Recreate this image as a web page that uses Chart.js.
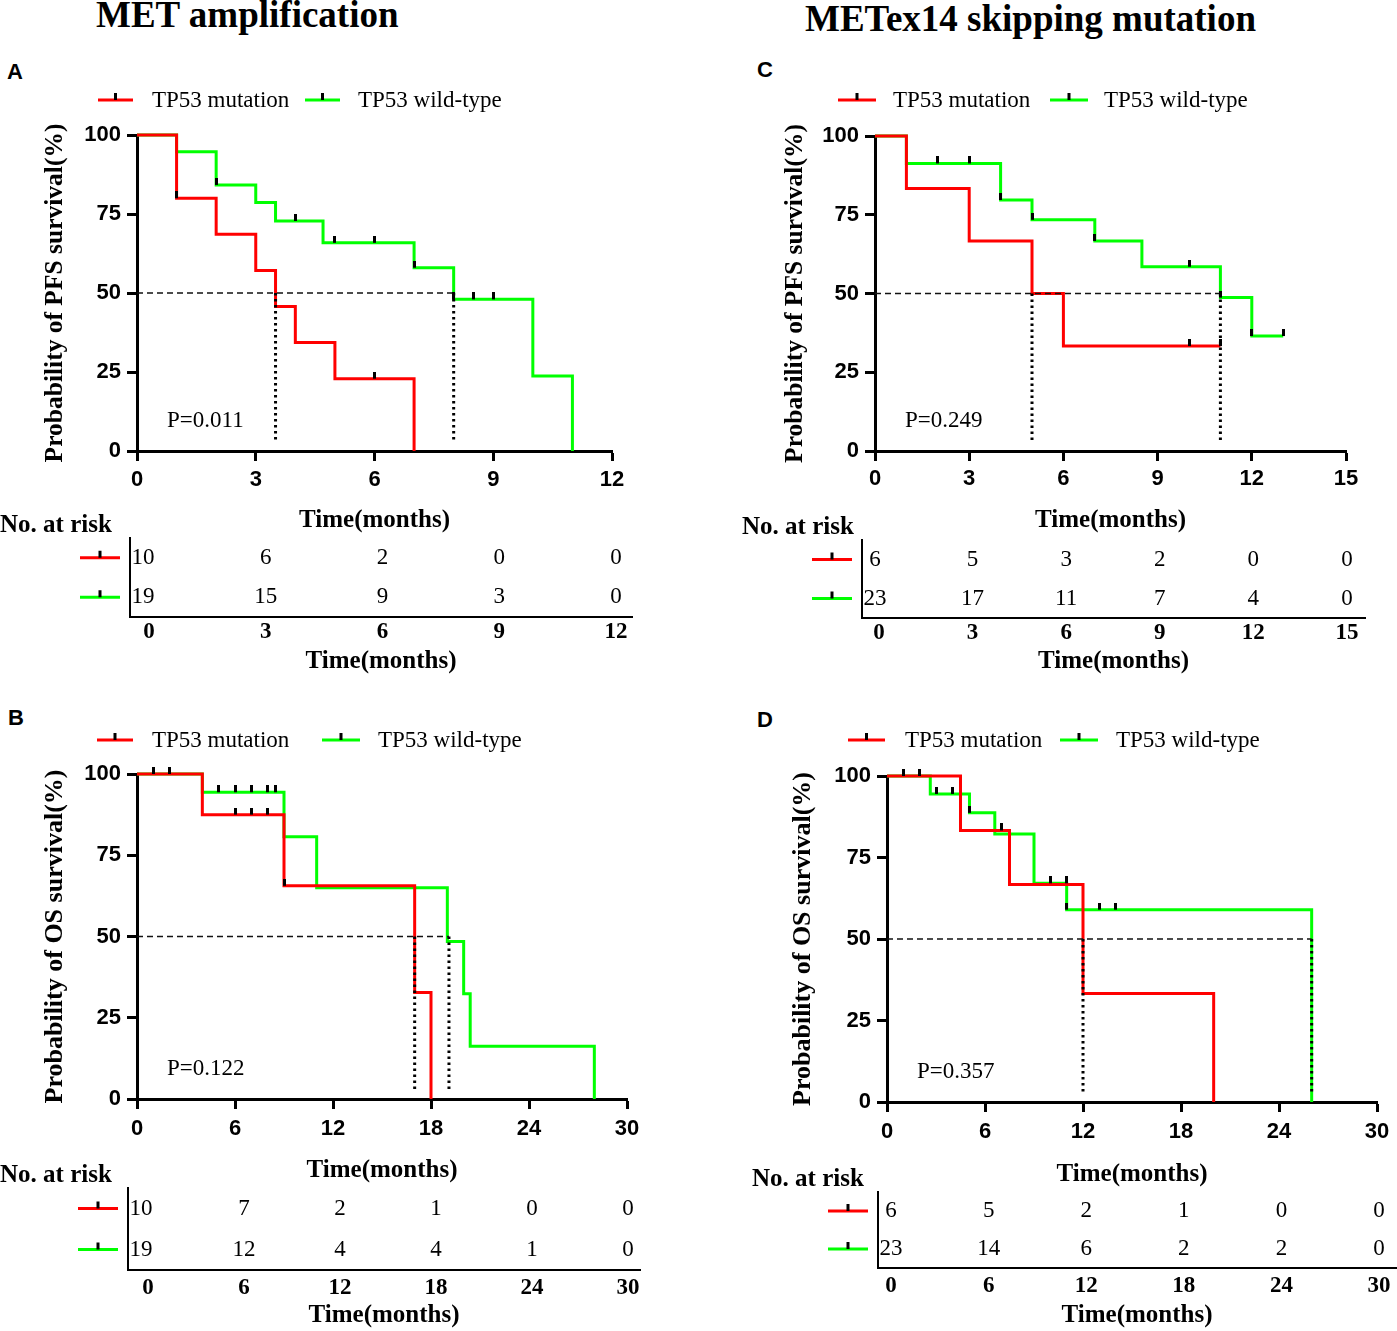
<!DOCTYPE html>
<html><head><meta charset="utf-8">
<script src="https://cdn.jsdelivr.net/npm/chart.js@4.4.1/dist/chart.umd.min.js"></script>
<style>
html,body{margin:0;padding:0;background:#fff}
body{width:1397px;height:1331px;position:relative;overflow:hidden}
.hd{position:absolute;font-family:"Liberation Serif","Times New Roman",serif;font-weight:bold;font-size:37px;line-height:37px;white-space:nowrap;color:#000}
.lt{position:absolute;font-family:"Liberation Sans",Arial,sans-serif;font-weight:bold;font-size:22px;line-height:22px;color:#000}
canvas{position:absolute}
</style></head><body>
<div class="hd" style="left:96px;top:-4px">MET amplification</div>
<div class="hd" style="left:805px;top:0px">METex14 skipping mutation</div>
<div class="lt" style="left:7px;top:61px">A</div>
<div class="lt" style="left:757px;top:59px">C</div>
<div class="lt" style="left:8px;top:707px">B</div>
<div class="lt" style="left:757px;top:709px">D</div>
<script>
const SERIF='"Liberation Serif","Times New Roman",serif';
const SANS='"Liberation Sans",Arial,sans-serif';
const seriesNames=['TP53 mutation','TP53 wild-type'];
const seriesColors=['#ff0000','#00ff00'];
const xAxisTitle='Time(months)';
const pfsTitle='Probability of PFS survival(%)';
const osTitle='Probability of OS survival(%)';
const riskTitle='No. at risk';
const medianLevel=50;
const medianFloor=3;

// ---- Panel A: MET amplification, PFS ----
const aXTicks=[0,3,6,9,12];
const aMutTime=[0,1,2,3,3.5,4,5,7];
const aMutSurv=[100,80,68.6,57.1,45.7,34.3,22.9,0];
const aMutCensorTime=[1,6];
const aMutCensorSurv=[80,22.9];
const aWtTime=[0,1,2,3,3.5,4.7,7,8,10,11];
const aWtSurv=[100,94.7,84.2,78.6,72.8,65.9,58.0,48.0,23.7,0];
const aWtCensorTime=[2,4,5,6,7,8,8.5,9];
const aWtCensorSurv=[84.2,72.8,65.9,65.9,58.0,48.0,48.0,48.0];
const aMedians=[3.5,8];
const aRiskMut=[10,6,2,0,0];
const aRiskWt=[19,15,9,3,0];
const aP='P=0.011';

// ---- Panel C: METex14 skipping, PFS ----
const cXTicks=[0,3,6,9,12,15];
const cMutTime=[0,1,3,5,6,11];
const cMutSurv=[100,83.3,66.7,50,33.3,33.3];
const cMutCensorTime=[10,11];
const cMutCensorSurv=[33.3,33.3];
const cWtTime=[0,1,4,5,7,8.5,11,12,13];
const cWtSurv=[100,91.3,79.7,73.4,66.7,58.5,48.7,36.5,36.5];
const cWtCensorTime=[2,3,4,5,7,10,11,12,13];
const cWtCensorSurv=[91.3,91.3,79.7,73.4,66.7,58.5,48.7,36.5,36.5];
const cMedians=[5,11];
const cRiskMut=[6,5,3,2,0,0];
const cRiskWt=[23,17,11,7,4,0];
const cP='P=0.249';

// ---- Panel B: MET amplification, OS ----
const bXTicks=[0,6,12,18,24,30];
const bMutTime=[0,4,9,17,18];
const bMutSurv=[100,87.5,65.6,32.8,0];
const bMutCensorTime=[1,2,6,7,8,9];
const bMutCensorSurv=[100,100,87.5,87.5,87.5,65.6];
const bWtTime=[0,4,9,11,19,20,20.4,28];
const bWtSurv=[100,94.4,80.7,65,48.5,32.4,16.2,0];
const bWtCensorTime=[5,6,7,8,8.5];
const bWtCensorSurv=[94.4,94.4,94.4,94.4,94.4];
const bMedians=[17,19.1];
const bRiskMut=[10,7,2,1,0,0];
const bRiskWt=[19,12,4,4,1,0];
const bP='P=0.122';

// ---- Panel D: METex14 skipping, OS ----
const dXTicks=[0,6,12,18,24,30];
const dMutTime=[0,4.5,7.5,12,20];
const dMutSurv=[100,83.3,66.7,33.3,0];
const dMutCensorTime=[1,2,7];
const dMutCensorSurv=[100,100,83.3];
const dWtTime=[0,2.65,5.05,6.6,9,11,26];
const dWtSurv=[100,94.5,88.7,82.2,67.1,59,0];
const dWtCensorTime=[3,4,5.05,10,11,11,13,14];
const dWtCensorSurv=[94.5,94.5,88.7,67.1,67.1,59,59,59];
const dMedians=[12,26];
const dRiskMut=[6,5,2,1,0,0];
const dRiskWt=[23,14,6,2,2,0];
const dP='P=0.357';

function pts(xs,ys){return xs.map((x,i)=>({x:x,y:ys[i]}));}

const censorImg=(function(){const c=document.createElement('canvas');c.width=3;c.height=14;const g=c.getContext('2d');g.fillStyle='#000';g.fillRect(0,0,3,7);return c;})();

function addCanvas(r){
  const c=document.createElement('canvas');
  c.width=r.w;c.height=r.h;
  c.style.left=r.x+'px';c.style.top=r.y+'px';c.style.width=r.w+'px';c.style.height=r.h+'px';
  document.body.appendChild(c);
  return c;
}

const kmDecor={
  id:'kmDecor',
  afterDraw(chart,args,o){
    const ctx=chart.ctx,a=chart.chartArea;
    ctx.save();
    o.legend.forEach((it,k)=>{
      ctx.strokeStyle=seriesColors[k];ctx.lineWidth=3;
      ctx.beginPath();ctx.moveTo(it.x1,o.legendY);ctx.lineTo(it.x2,o.legendY);ctx.stroke();
      ctx.fillStyle='#000';ctx.fillRect((it.x1+it.x2)/2-1.5,o.legendY-7,3,7);
      ctx.font='23px '+SERIF;ctx.textBaseline='middle';ctx.textAlign='left';
      ctx.fillText(seriesNames[k],it.tx,o.legendY+1);
    });
    ctx.fillStyle='#000';ctx.font='23px '+SERIF;ctx.textBaseline='middle';ctx.textAlign='left';
    ctx.fillText(o.pText,a.left+30,a.bottom-30);
    ctx.restore();
  }
};

const riskDecor={
  id:'riskDecor',
  afterDraw(chart,args,o){
    const ctx=chart.ctx,a=chart.chartArea;
    ctx.save();
    ctx.fillStyle='#000';
    ctx.font='bold 25px '+SERIF;ctx.textBaseline='middle';ctx.textAlign='left';
    ctx.fillText(riskTitle,0,a.top-12);
    chart.data.datasets.forEach((ds,k)=>{
      const meta=chart.getDatasetMeta(k);
      const y0=meta.data[0].y;
      ctx.strokeStyle=seriesColors[k];ctx.lineWidth=3;
      ctx.beginPath();ctx.moveTo(a.left-50,y0);ctx.lineTo(a.left-10,y0);ctx.stroke();
      ctx.fillStyle='#000';ctx.fillRect(a.left-31.5,y0-7,3,7);
      ctx.font='23px '+SERIF;ctx.textBaseline='middle';ctx.textAlign='center';
      meta.data.forEach((el,j)=>{
        const x=(j===0)?Math.min(el.x,a.left+13):el.x;
        ctx.fillText(String(ds.counts[j]),x,el.y);
      });
    });
    ctx.restore();
  }
};

function makeKM(p){
  const r=p.rect,a=p.area,xH=90;
  const c=addCanvas(r);
  const medMax=Math.max.apply(null,p.medians);
  const datasets=[
    {label:'Censored',data:pts(p.mutCT,p.mutCS).concat(pts(p.wtCT,p.wtCS)),showLine:false,pointStyle:censorImg,pointRadius:3,order:0,clip:false},
    {label:'Median',data:[{x:0,y:medianLevel},{x:medMax,y:medianLevel}],showLine:true,borderColor:'#111',borderWidth:1.6,borderDash:[6,4],pointRadius:0,order:1,clip:false}
  ];
  p.medians.forEach(m=>datasets.push({label:'Median time',data:[{x:m,y:medianLevel},{x:m,y:medianFloor}],showLine:true,borderColor:'#000',borderWidth:3,borderDash:[2.5,3.5],pointRadius:0,order:1,clip:false}));
  datasets.push({label:seriesNames[0],data:pts(p.mutT,p.mutS),showLine:true,stepped:true,borderColor:seriesColors[0],borderWidth:3,pointRadius:0,order:2,clip:false});
  datasets.push({label:seriesNames[1],data:pts(p.wtT,p.wtS),showLine:true,stepped:true,borderColor:seriesColors[1],borderWidth:3,pointRadius:0,order:3,clip:false});
  const ytSize=p.yTitleSize;
  new Chart(c,{
    type:'line',
    data:{datasets:datasets},
    plugins:[kmDecor],
    options:{
      responsive:false,animation:false,
      layout:{padding:{left:0,top:a.top-r.y,right:r.x+r.w-a.right,bottom:r.y+r.h-a.bottom-xH}},
      plugins:{legend:{display:false},tooltip:{enabled:false},
        kmDecor:{legend:p.legend,legendY:p.legendY,pText:p.pText}},
      scales:{
        x:{type:'linear',min:0,max:p.xTicks[p.xTicks.length-1],
          afterBuildTicks:s=>{s.ticks=p.xTicks.map(v=>({value:v}));},
          afterFit:s=>{s.height=xH;},
          border:{display:true,color:'#000',width:3},
          grid:{display:true,drawOnChartArea:false,drawTicks:true,tickLength:10,tickWidth:3,tickColor:'#000'},
          ticks:{color:'#000',font:{family:SANS,weight:'bold',size:22},padding:p.xTickPad,maxRotation:0,autoSkip:false},
          title:{display:true,text:xAxisTitle,color:'#000',font:{family:SERIF,weight:'bold',size:25},padding:{top:0,bottom:p.xTitlePad}}},
        y:{min:0,max:100,
          afterBuildTicks:s=>{s.ticks=[0,25,50,75,100].map(v=>({value:v}));},
          afterFit:s=>{s.width=a.left-r.x;},
          border:{display:true,color:'#000',width:3},
          grid:{display:true,drawOnChartArea:false,drawTicks:true,tickLength:10,tickWidth:3,tickColor:'#000'},
          ticks:{color:'#000',font:{family:SANS,weight:'bold',size:22},padding:6},
          title:{display:true,text:p.yTitle,color:'#000',font:{family:SERIF,weight:'bold',size:ytSize},padding:{top:55-ytSize*0.6,bottom:0}}}
      }
    }
  });
}

function makeRisk(p){
  const r=p.rrect,a=p.rarea,xH=p.rxH;
  const c=addCanvas(r);
  const counts=[p.riskMut,p.riskWt];
  const datasets=[0,1].map(k=>({label:seriesNames[k],data:p.xTicks.map(t=>({x:t,y:seriesNames[k]})),counts:counts[k],showLine:false,pointRadius:0}));
  new Chart(c,{
    type:'scatter',
    data:{datasets:datasets},
    plugins:[riskDecor],
    options:{
      responsive:false,animation:false,
      layout:{padding:{left:0,top:a.top-r.y,right:r.x+r.w-a.right,bottom:r.y+r.h-a.bottom-xH}},
      plugins:{legend:{display:false},tooltip:{enabled:false},riskDecor:{}},
      scales:{
        x:{type:'linear',min:p.rmin,max:p.rmax,
          afterBuildTicks:s=>{s.ticks=p.xTicks.map(v=>({value:v}));},
          afterFit:s=>{s.height=xH;},
          border:{display:true,color:'#000',width:2},
          grid:{display:false,drawTicks:false},
          ticks:{color:'#000',font:{family:SERIF,weight:'bold',size:23},padding:p.rTickPad,maxRotation:0,autoSkip:false},
          title:{display:true,text:xAxisTitle,color:'#000',font:{family:SERIF,weight:'bold',size:25},padding:{top:0,bottom:0}}},
        y:{type:'category',labels:seriesNames,offset:true,
          afterFit:s=>{s.width=a.left-r.x;},
          border:{display:true,color:'#000',width:2},
          grid:{display:false,drawTicks:false},
          ticks:{display:false}}
      }
    }
  });
}

const panels=[
  {rect:{x:0,y:80,w:660,h:470},area:{left:137,top:135,right:612,bottom:451},xTicks:aXTicks,yTitle:pfsTitle,yTitleSize:25.5,
   mutT:aMutTime,mutS:aMutSurv,mutCT:aMutCensorTime,mutCS:aMutCensorSurv,wtT:aWtTime,wtS:aWtSurv,wtCT:aWtCensorTime,wtCS:aWtCensorSurv,
   medians:aMedians,pText:aP,legendY:20,legend:[{x1:98,x2:133,tx:152},{x1:305,x2:340,tx:358}],xTickPad:6,xTitlePad:5,
   rrect:{x:0,y:505,w:660,h:180},rarea:{left:130,top:538,right:632,bottom:617},rmin:-0.49,rmax:12.41,rxH:60,rTickPad:1,riskMut:aRiskMut,riskWt:aRiskWt},
  {rect:{x:740,y:80,w:650,h:470},area:{left:875,top:136,right:1346,bottom:451},xTicks:cXTicks,yTitle:pfsTitle,yTitleSize:25.5,
   mutT:cMutTime,mutS:cMutSurv,mutCT:cMutCensorTime,mutCS:cMutCensorSurv,wtT:cWtTime,wtS:cWtSurv,wtCT:cWtCensorTime,wtCS:cWtCensorSurv,
   medians:cMedians,pText:cP,legendY:20,legend:[{x1:98,x2:136,tx:153},{x1:310,x2:348,tx:364}],xTickPad:5,xTitlePad:5,
   rrect:{x:742,y:505,w:650,h:180},rarea:{left:862,top:540,right:1365,bottom:618},rmin:-0.545,rmax:15.58,rxH:59,rTickPad:1,riskMut:cRiskMut,riskWt:cRiskWt},
  {rect:{x:0,y:720,w:660,h:480},area:{left:137,top:774,right:627,bottom:1099},xTicks:bXTicks,yTitle:osTitle,yTitleSize:26,
   mutT:bMutTime,mutS:bMutSurv,mutCT:bMutCensorTime,mutCS:bMutCensorSurv,wtT:bWtTime,wtS:bWtSurv,wtCT:bWtCensorTime,wtCS:bWtCensorSurv,
   medians:bMedians,pText:bP,legendY:20,legend:[{x1:97,x2:133,tx:152},{x1:322,x2:360,tx:378}],xTickPad:7,xTitlePad:3,
   rrect:{x:0,y:1150,w:660,h:181},rarea:{left:128,top:1188,right:640,bottom:1270},rmin:-1.25,rmax:30.75,rxH:61,rTickPad:4,riskMut:bRiskMut,riskWt:bRiskWt},
  {rect:{x:748,y:720,w:649,h:480},area:{left:887,top:776,right:1377,bottom:1102},xTicks:dXTicks,yTitle:osTitle,yTitleSize:26,
   mutT:dMutTime,mutS:dMutSurv,mutCT:dMutCensorTime,mutCS:dMutCensorSurv,wtT:dWtTime,wtS:dWtSurv,wtCT:dWtCensorTime,wtCS:dWtCensorSurv,
   medians:dMedians,pText:dP,legendY:20,legend:[{x1:100,x2:137,tx:157},{x1:312,x2:350,tx:368}],xTickPad:7,xTitlePad:2,
   rrect:{x:752,y:1150,w:645,h:181},rarea:{left:878,top:1192,right:1396,bottom:1268},rmin:-0.8,rmax:31.04,rxH:63,rTickPad:4,riskMut:dRiskMut,riskWt:dRiskWt}
];
panels.forEach(p=>{makeKM(p);makeRisk(p);});
</script>
</body></html>
